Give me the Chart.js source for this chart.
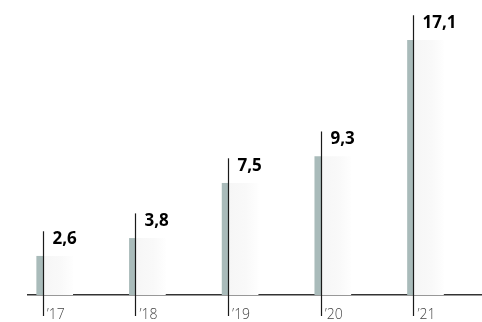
<!DOCTYPE html>
<html>
<head>
<meta charset="utf-8">
<script src="https://cdn.jsdelivr.net/npm/chart.js@4"></script>
<style>
  html, body { margin: 0; padding: 0; background: #fff; }
  #wrap { width: 482px; height: 322px; }
</style>
</head>
<body>
<div id="wrap"><canvas id="barChart"></canvas></div>
<script>
// data
const years = ['\u201917', '\u201918', '\u201919', '\u201920', '\u201921'];
const values = [2.6, 3.8, 7.5, 9.3, 17.1];
const valueLabels = ['2,6', '3,8', '7,5', '9,3', '17,1'];

const points = values.map((v, i) => ({ x: i, y: v }));

// faint shading to the right of each bar, fading out
function shade(context) {
    const chart = context.chart;
    const xs = chart.scales.x;
    if (!xs || context.dataIndex === undefined) return '#f8f8f8';
    const x = xs.getPixelForValue(context.dataIndex);
    if (!isFinite(x)) return '#f8f8f8';
    const g = chart.ctx.createLinearGradient(x, 0, x + 30, 0);
    g.addColorStop(0, '#f6f6f6');
    g.addColorStop(0.6, '#f9f9f9');
    g.addColorStop(1, '#fefefe');
    return g;
}

// black marker line + bold value above each bar
const markerPlugin = {
    id: 'markers',
    afterDatasetsDraw(chart) {
        const ctx = chart.ctx;
        const xs = chart.scales.x;
        const ys = chart.scales.y;
        ctx.save();
        values.forEach((v, i) => {
            const x = Math.round(xs.getPixelForValue(i)) + 0.5;
            const top = ys.getPixelForValue(v) - 25;
            ctx.strokeStyle = '#1a1a1a';
            ctx.lineWidth = 1.2;
            ctx.beginPath();
            ctx.moveTo(x, top);
            ctx.lineTo(x, 316);
            ctx.stroke();
            ctx.fillStyle = '#000';
            ctx.font = 'bold 17px "Open Sans", sans-serif';
            ctx.textAlign = 'left';
            ctx.textBaseline = 'middle';
            ctx.fillText(valueLabels[i], x + 9, top + 8);
        });
        ctx.restore();
    }
};

new Chart(document.getElementById('barChart'), {
    type: 'bar',
    data: {
        datasets: [{
            data: points,
            backgroundColor: '#a9bbba',
            barThickness: 6
        }, {
            data: points,
            backgroundColor: shade,
            barThickness: 30
        }]
    },
    options: {
        responsive: true,
        maintainAspectRatio: false,
        animation: false,
        layout: { padding: { left: 28, top: 12, right: 0, bottom: 0 } },
        plugins: { legend: { display: false }, tooltip: { enabled: false } },
        scales: {
            x: {
                type: 'linear',
                offset: false,
                min: -0.1586,
                max: 4.739,
                grid: { display: false, drawTicks: false, offset: false },
                border: { display: true, color: '#333', width: 1.5 },
                afterFit(scale) { scale.height = 27; },
                ticks: {
                    stepSize: 1,
                    includeBounds: false,
                    autoSkip: false,
                    maxRotation: 0,
                    align: 'start',
                    labelOffset: 4,
                    padding: 12,
                    color: '#444',
                    font: { family: '"Open Sans", sans-serif', size: 14, weight: 300 },
                    callback: (v) => Number.isInteger(v) ? (years[v] || '') : ''
                }
            },
            y: {
                display: false,
                min: 0,
                max: 19
            }
        }
    },
    plugins: [markerPlugin]
});
</script>
</body>
</html>
